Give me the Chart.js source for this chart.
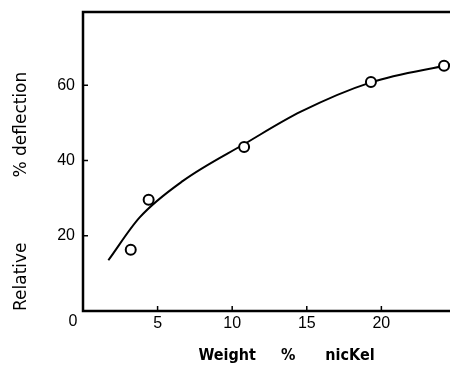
<!DOCTYPE html>
<html>
<head>
<meta charset="utf-8">
<script src="https://cdn.jsdelivr.net/npm/chart.js@4"></script>
<style>
  html, body { margin: 0; padding: 0; background: #fff; }
  canvas { display: block; }
</style>
</head>
<body>
<canvas id="nickelChart" width="450" height="366"></canvas>
<script>
// Measured points
const nickel = [3.2, 4.4, 10.8, 19.3, 24.2];
const deflection = [16.3, 29.6, 43.6, 60.9, 65.2];

// Smooth curve through the points
const curveNickel = [1.7, 3.8, 6.7, 10.9, 14.6, 19.3, 24.7];
const curveDeflection = [13.5, 24.9, 34.6, 44.6, 53.0, 60.8, 65.6];

// Tick labels
const xTicks = [5, 10, 15, 20];
const yTicks = [20, 40, 60];

const ink = '#000000';
const tickFont = { family: 'Liberation Sans', size: 16 };
const titleFont = { family: 'DejaVu Sans Condensed', size: 16, weight: 'bold' };

// frame, inward ticks and the lone "0" at the corner
const framePlugin = {
  id: 'frame',
  afterDraw(chart) {
    const { ctx, chartArea: a, scales } = chart;
    ctx.save();
    ctx.strokeStyle = ink;
    ctx.lineWidth = 2.5;
    ctx.beginPath();
    ctx.moveTo(a.right + 5, a.top);
    ctx.lineTo(a.left, a.top);
    ctx.lineTo(a.left, a.bottom);
    ctx.lineTo(a.right + 5, a.bottom);
    ctx.stroke();

    ctx.lineWidth = 1.5;
    ctx.beginPath();
    xTicks.forEach(v => {
      const px = scales.x.getPixelForValue(v);
      ctx.moveTo(px, a.bottom);
      ctx.lineTo(px, a.bottom - 5);
    });
    yTicks.forEach(v => {
      const py = scales.y.getPixelForValue(v);
      ctx.moveTo(a.left, py);
      ctx.lineTo(a.left + 5, py);
    });
    ctx.stroke();

    ctx.fillStyle = ink;
    ctx.font = tickFont.size + 'px ' + tickFont.family;
    ctx.textAlign = 'center';
    ctx.textBaseline = 'middle';
    ctx.fillText('0', a.left - 10, a.bottom + 11);
    ctx.restore();
  }
};

const ctx = document.getElementById('nickelChart').getContext('2d');
new Chart(ctx, {
  type: 'scatter',
  data: {
    datasets: [
      {
        label: 'Measured',
        data: nickel.map((x, i) => ({ x: x, y: deflection[i] })),
        pointStyle: 'circle',
        pointRadius: 5,
        pointBorderWidth: 2,
        pointBorderColor: ink,
        pointBackgroundColor: '#ffffff',
        showLine: false,
        order: 0
      },
      {
        label: 'Curve',
        data: curveNickel.map((x, i) => ({ x: x, y: curveDeflection[i] })),
        showLine: true,
        borderColor: ink,
        borderWidth: 2,
        pointRadius: 0,
        cubicInterpolationMode: 'monotone',
        fill: false,
        order: 1
      }
    ]
  },
  options: {
    responsive: false,
    animation: false,
    layout: { autoPadding: false, padding: { top: 12, right: 0, left: 0, bottom: 0 } },
    plugins: {
      legend: { display: false },
      tooltip: { enabled: false }
    },
    scales: {
      x: {
        type: 'linear',
        min: 0,
        max: 24.6,
        afterBuildTicks: scale => { scale.ticks = xTicks.map(v => ({ value: v })); },
        afterFit: scale => {
          scale.height = 55;
          scale.paddingLeft = 0;
          scale.paddingRight = 0;
        },
        border: { display: false },
        grid: { display: false, drawTicks: false },
        ticks: { color: ink, font: tickFont, padding: 3, maxRotation: 0 },
        title: {
          display: true,
          text: '        Weight     %      nicKel',
          color: ink,
          font: titleFont,
          padding: { top: 0, bottom: 1 }
        }
      },
      y: {
        type: 'linear',
        min: 0,
        max: 79.5,
        afterBuildTicks: scale => { scale.ticks = yTicks.map(v => ({ value: v })); },
        afterFit: scale => {
          scale.width = 83;
          scale.paddingTop = 0;
          scale.paddingBottom = 0;
        },
        border: { display: false },
        grid: { display: false, drawTicks: false },
        ticks: { color: ink, font: tickFont, padding: 8 },
        title: {
          display: true,
          text: 'Relative            % deflection',
          align: 'start',
          color: ink,
          font: { family: 'DejaVu Sans', size: 17 },
          padding: { top: 11, bottom: 0 }
        }
      }
    }
  },
  plugins: [framePlugin]
});
</script>
</body>
</html>
